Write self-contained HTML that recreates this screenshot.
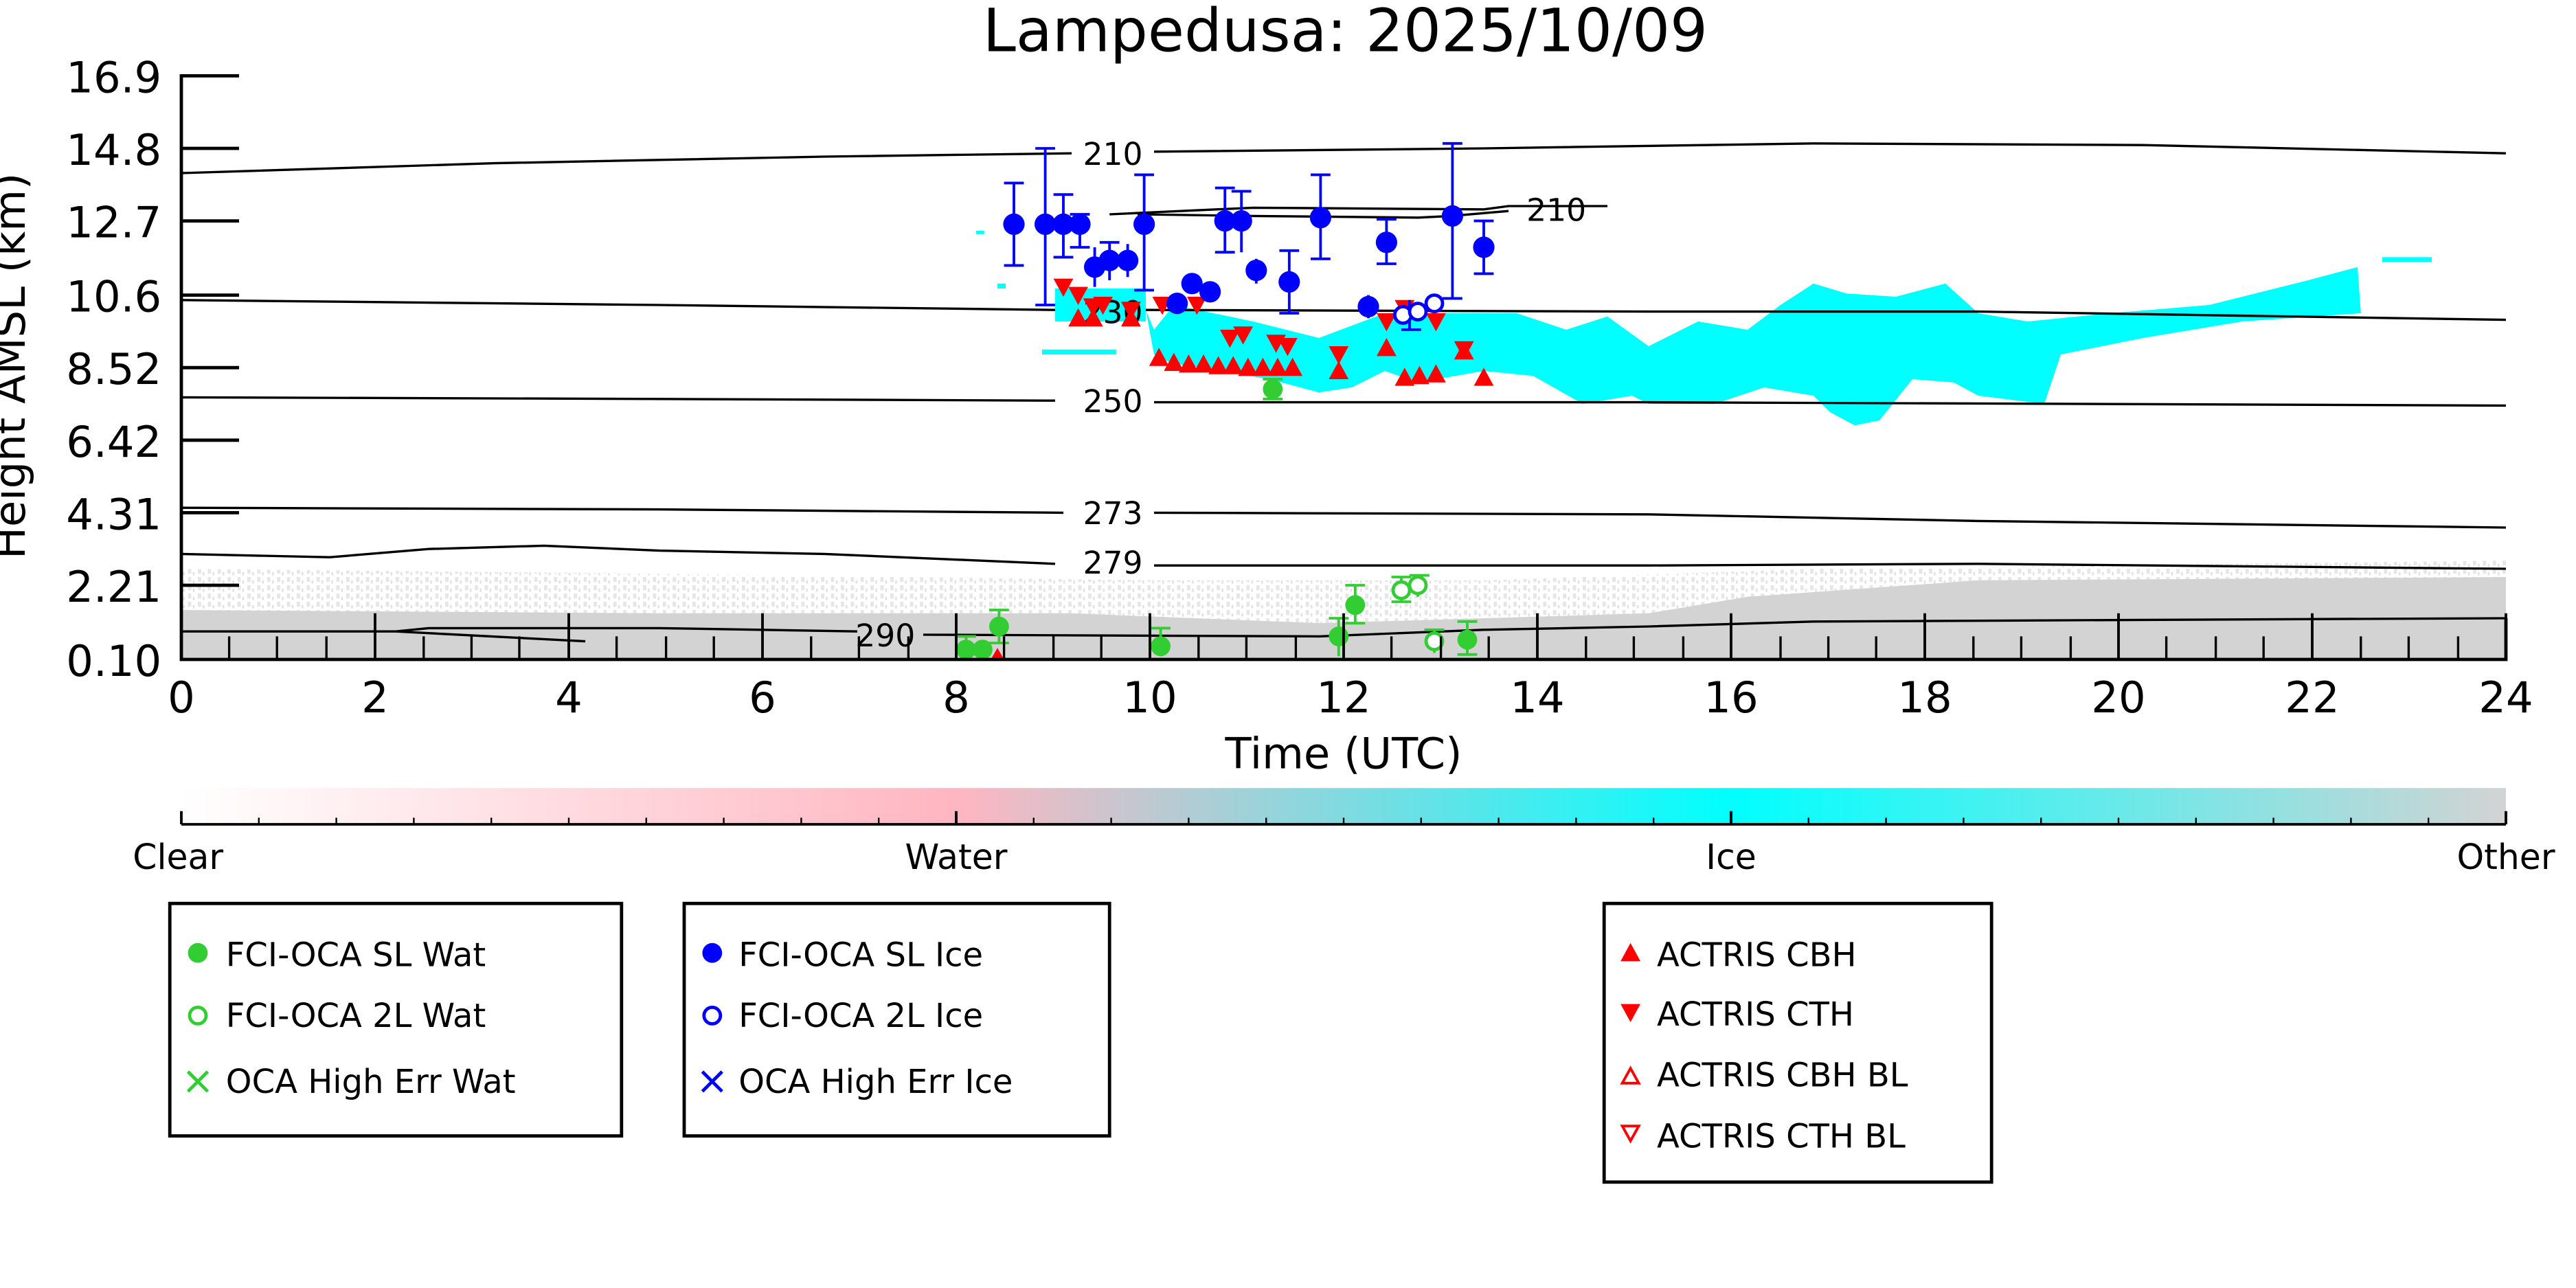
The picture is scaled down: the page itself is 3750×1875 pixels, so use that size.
<!DOCTYPE html>
<html><head><meta charset="utf-8"><style>html,body{margin:0;padding:0;background:#fff}svg{display:block}</style></head>
<body>
<svg xmlns="http://www.w3.org/2000/svg" width="3750" height="1875" viewBox="0 0 1562.5 781.25" font-family="'DejaVu Sans','Liberation Sans',sans-serif">
<defs>
<linearGradient id="cb" x1="0" x2="1" y1="0" y2="0">
<stop offset="0" stop-color="#ffffff"/>
<stop offset="0.333" stop-color="#ffb6c1"/>
<stop offset="0.667" stop-color="#00ffff"/>
<stop offset="1" stop-color="#d3d3d3"/>
</linearGradient>
<pattern id="spk" width="6" height="5" patternUnits="userSpaceOnUse"><rect x="0" y="0" width="2" height="3" fill="#e6e6e6"/><rect x="3" y="2" width="1" height="2" fill="#e0e0e0"/></pattern>
</defs>
<text x="816" y="31" font-size="36" text-anchor="middle">Lampedusa: 2025/10/09</text>

<!-- speckled low cloud -->
<path d="M110,345 L400,348 L700,352 L900,352 L1100,345 L1520,340 L1520,400 L110,400Z" fill="url(#spk)"/>
<path d="M110,370 L400,372 L650,372 L800,378 L1000,372 L1060,362 L1200,352 L1520,350 L1520,400 L110,400Z" fill="#d3d3d3"/>

<!-- cyan ice cloud -->
<path fill="#00ffff" d="M695,188 L700,200 L712,185 L760,195 L800,205 L840,190 L870,190 L920,190 L950,200 L975,192 L1000,210 L1030,195 L1060,200 L1080,185 L1100,172 L1120,178 L1150,180 L1180,172 L1200,190 L1230,195 L1280,190 L1340,185 L1400,170 L1430,162 L1432,190 L1360,195 L1300,205 L1250,215 L1240,245 L1200,240 L1185,232 L1160,230 L1140,255 L1125,258 L1110,250 L1100,240 L1070,235 L1040,245 L1000,245 L990,240 L960,245 L930,228 L900,225 L860,232 L840,225 L820,235 L800,238 L770,230 L740,225 L710,220 L700,215Z"/>
<rect x="632" y="212" width="45" height="3" fill="#00ffff"/>
<rect x="605" y="172" width="5" height="3" fill="#00ffff"/>
<rect x="592" y="140" width="5" height="2" fill="#00ffff"/>
<rect x="1445" y="156" width="30" height="3" fill="#00ffff"/>
<rect x="640" y="175" width="55" height="20" fill="#00ffff"/>

<!-- contours -->
<g fill="none" stroke="#000" stroke-width="1.4">
<path d="M110,105 L300,99 L500,95 L650,93"/><path d="M700,92 L900,90 L1100,87 L1300,88 L1520,93"/>
<path d="M673,130 L760,126 L900,127 L915,125 L975,125 M690,130 L760,131 L860,132 L880,131 L915,128"/>
<path d="M110,182 L400,185 L640,188"/><path d="M695,188 L1000,189 L1200,189 L1520,194"/>
<path d="M110,241 L400,242 L640,243"/><path d="M700,244 L1000,244 L1520,246"/>
<path d="M110,308 L400,309 L645,311"/><path d="M700,311 L1000,312 L1200,316 L1520,320"/>
<path d="M110,336 L200,338 L260,333 L330,331 L400,334 L500,336 L640,342"/><path d="M700,343 L1000,343 L1200,342 L1520,345"/>
<path d="M110,383 L200,383 L240,383 L355,389 M240,383 L260,381 L400,381 L520,383"/><path d="M560,385 L800,386 L900,382 L1000,380 L1100,377 L1300,376 L1520,375"/>
</g>
<g font-size="19" text-anchor="middle" fill="#000">
<text x="675" y="100">210</text><text x="944" y="134">210</text>
<text x="675" y="196">230</text><text x="675" y="250">250</text>
<text x="675" y="318">273</text><text x="675" y="348">279</text>
<text x="537" y="392">290</text>
</g>

<!-- red triangles -->
<g fill="#ff0000">
<path d="M639,169h12l-6,11z M648,174h12l-6,11z M657,181h12l-6,11z M663,180h12l-6,11z M680,183h12l-6,11z M699,180h12l-6,11z M720,180h12l-6,11z M740,200h12l-6,11z M748,198h12l-6,11z M768,203h12l-6,11z M775,205h12l-6,11z M806,210h12l-6,11z M835,190h12l-6,11z M846,182h12l-6,11z M865,190h12l-6,11z M882,207h12l-6,11z"/>
<path d="M648,198h12l-6,-11z M657,198h12l-6,-11z M680,198h12l-6,-11z M697,222h12l-6,-11z M706,225h12l-6,-11z M715,226h12l-6,-11z M724,226h12l-6,-11z M733,227h12l-6,-11z M742,227h12l-6,-11z M751,228h12l-6,-11z M760,228h12l-6,-11z M769,228h12l-6,-11z M778,228h12l-6,-11z M806,230h12l-6,-11z M835,216h12l-6,-11z M846,234h12l-6,-11z M855,233h12l-6,-11z M865,232h12l-6,-11z M882,218h12l-6,-11z M894,234h12l-6,-11z M601,400h8l-4,-7z"/>
</g>

<!-- blue error bars and points -->
<g stroke="#0000ff" stroke-width="1.6" fill="none">
<path d="M615,111V161M609,111h12M609,161h12 M634,90V185M628,90h12M628,185h12 M645,118V156M639,118h12M639,156h12 M655,130V150M649,130h12M649,150h12 M664,150V174 M673,147V170M667,147h12 M684,148V168 M694,106V176M688,106h12M688,176h12 M714,178V190 M723,167V177 M734,171V183 M743,114V153M737,114h12M737,153h12 M753,116V153M747,116h12 M762,157V172 M782,152V190M776,152h12M776,190h12 M801,106V157M795,106h12M795,157h12 M841,133V160M835,133h12M835,160h12 M830,179V193 M881,87V181M875,87h12M875,181h12 M900,134V166M894,134h12M894,166h12 M855,182V200M850,200h12"/>
</g>
<g fill="#0000ff">
<ellipse cx="615" cy="136" rx="6.5" ry="6.5"/><ellipse cx="634" cy="136" rx="6.5" ry="6.5"/><ellipse cx="645" cy="136" rx="6.5" ry="6.5"/><ellipse cx="655" cy="136" rx="6.5" ry="6.5"/><ellipse cx="664" cy="162" rx="6.5" ry="6.5"/><ellipse cx="673" cy="158" rx="6.5" ry="6.5"/><ellipse cx="684" cy="158" rx="6.5" ry="6.5"/><ellipse cx="694" cy="136" rx="6.5" ry="6.5"/><ellipse cx="714" cy="184" rx="6.5" ry="6.5"/><ellipse cx="723" cy="172" rx="6.5" ry="6.5"/><ellipse cx="734" cy="177" rx="6.5" ry="6.5"/><ellipse cx="743" cy="134" rx="6.5" ry="6.5"/><ellipse cx="753" cy="134" rx="6.5" ry="6.5"/><ellipse cx="762" cy="164" rx="6.5" ry="6.5"/><ellipse cx="782" cy="171" rx="6.5" ry="6.5"/><ellipse cx="801" cy="132" rx="6.5" ry="6.5"/><ellipse cx="841" cy="147" rx="6.5" ry="6.5"/><ellipse cx="830" cy="186" rx="6.5" ry="6.5"/><ellipse cx="881" cy="131" rx="6.5" ry="6.5"/><ellipse cx="900" cy="150" rx="6.5" ry="6.5"/>
</g>
<g fill="#fff" stroke="#0000ff" stroke-width="2"><circle cx="851" cy="191" r="5"/><circle cx="860" cy="189" r="5"/><circle cx="870" cy="184" r="5"/></g>

<!-- green -->
<g stroke="#32cd32" stroke-width="1.6" fill="none">
<path d="M606,370V390M600,370h12M600,390h12 M704,381V398M698,381h12 M772,230V242M766,230h12M766,242h12 M812,375V398M806,375h12 M822,355V378M816,355h12M816,378h12 M850,350V365M844,350h12M844,365h12M860,349V362M855,349h12 M870,382V396M864,382h12 M890,377V397M884,377h12M884,397h12 M586,386V400M580,386h12M580,400h12"/>
</g>
<g fill="#32cd32"><circle cx="586" cy="394" r="6"/><circle cx="596" cy="394" r="6"/><circle cx="606" cy="380" r="6"/><circle cx="704" cy="392" r="6"/><circle cx="772" cy="236" r="6"/><circle cx="812" cy="386" r="6"/><circle cx="822" cy="367" r="6"/><circle cx="890" cy="388" r="6"/></g>
<g fill="#fff" stroke="#32cd32" stroke-width="2"><circle cx="850" cy="358" r="5"/><circle cx="860" cy="355" r="5"/><circle cx="870" cy="389" r="5"/></g>

<!-- axes -->
<g stroke="#000" stroke-width="2" fill="none">
<path d="M110,45V400H1520V375"/>
<path d="M110,46h35M110,90h35M110,134h35M110,179h35M110,223h35M110,267h35M110,311h35M110,355h35"/>
<path d="M110,400v-28M227.5,400v-28M345,400v-28M462.5,400v-28M580,400v-28M697.5,400v-28M815,400v-28M932.5,400v-28M1050,400v-28M1167.5,400v-28M1285,400v-28M1402.5,400v-28M1520,400v-28" stroke-width="1.6"/>
<path stroke-width="1.4" d="M139,400v-14M168,400v-14M198,400v-14M257,400v-14M286,400v-14M315,400v-14M374,400v-14M404,400v-14M433,400v-14M492,400v-14M521,400v-14M551,400v-14M609,400v-14M639,400v-14M668,400v-14M727,400v-14M756,400v-14M786,400v-14M844,400v-14M874,400v-14M903,400v-14M962,400v-14M991,400v-14M1021,400v-14M1080,400v-14M1109,400v-14M1138,400v-14M1197,400v-14M1226,400v-14M1256,400v-14M1314,400v-14M1344,400v-14M1373,400v-14M1432,400v-14M1461,400v-14M1491,400v-14"/>
</g>
<g font-size="26" text-anchor="end">
<text x="98" y="56">16.9</text><text x="98" y="100">14.8</text><text x="98" y="144">12.7</text><text x="98" y="189">10.6</text><text x="98" y="233">8.52</text><text x="98" y="277">6.42</text><text x="98" y="321">4.31</text><text x="98" y="365">2.21</text><text x="98" y="410">0.10</text>
</g>
<g font-size="26" text-anchor="middle">
<text x="110" y="432">0</text><text x="227.5" y="432">2</text><text x="345" y="432">4</text><text x="462.5" y="432">6</text><text x="580" y="432">8</text><text x="697.5" y="432">10</text><text x="815" y="432">12</text><text x="932.5" y="432">14</text><text x="1050" y="432">16</text><text x="1167.5" y="432">18</text><text x="1285" y="432">20</text><text x="1402.5" y="432">22</text><text x="1520" y="432">24</text>
<text x="815" y="466">Time (UTC)</text>
<text transform="translate(15,222) rotate(-90)">Height AMSL (km)</text>
</g>

<!-- colorbar -->
<rect x="110" y="478" width="1410" height="22" fill="url(#cb)"/>
<g stroke="#000" stroke-width="1.6"><path d="M110,500H1520M110,500v-8M580,500v-8M1050,500v-8M1520,500v-8"/>
<path stroke-width="1" d="M157,500v-4M204,500v-4M251,500v-4M298,500v-4M345,500v-4M392,500v-4M439,500v-4M486,500v-4M533,500v-4M627,500v-4M674,500v-4M721,500v-4M768,500v-4M815,500v-4M862,500v-4M909,500v-4M956,500v-4M1003,500v-4M1097,500v-4M1144,500v-4M1191,500v-4M1238,500v-4M1285,500v-4M1332,500v-4M1379,500v-4M1426,500v-4M1473,500v-4"/></g>
<g font-size="21" text-anchor="middle"><text x="108" y="527">Clear</text><text x="580" y="527">Water</text><text x="1050" y="527">Ice</text><text x="1520" y="527">Other</text></g>

<!-- legends -->
<g fill="none" stroke="#000" stroke-width="2"><rect x="103" y="548" width="274" height="141"/><rect x="415" y="548" width="258" height="141"/><rect x="973" y="548" width="235" height="169"/></g>
<g font-size="20">
<circle cx="120" cy="578" r="6" fill="#32cd32"/><text x="137" y="586">FCI-OCA SL Wat</text>
<circle cx="120" cy="616" r="5" fill="none" stroke="#32cd32" stroke-width="2"/><text x="137" y="623">FCI-OCA 2L Wat</text>
<path d="M114,650l12,12M126,650l-12,12" stroke="#32cd32" stroke-width="2"/><text x="137" y="663">OCA High Err Wat</text>
<circle cx="432" cy="578" r="6" fill="#0000ff"/><text x="448" y="586">FCI-OCA SL Ice</text>
<circle cx="432" cy="616" r="5" fill="none" stroke="#0000ff" stroke-width="2"/><text x="448" y="623">FCI-OCA 2L Ice</text>
<path d="M426,650l12,12M438,650l-12,12" stroke="#0000ff" stroke-width="2"/><text x="448" y="663">OCA High Err Ice</text>
<path d="M983,583h12l-6,-11z" fill="#ff0000"/><text x="1005" y="586">ACTRIS CBH</text>
<path d="M983,609h12l-6,11z" fill="#ff0000"/><text x="1005" y="622">ACTRIS CTH</text>
<path d="M984,657h10l-5,-9z" fill="none" stroke="#ff0000" stroke-width="1.6"/><text x="1005" y="659">ACTRIS CBH BL</text>
<path d="M984,683h10l-5,9z" fill="none" stroke="#ff0000" stroke-width="1.6"/><text x="1005" y="696">ACTRIS CTH BL</text>
</g>
</svg>
</body></html>
